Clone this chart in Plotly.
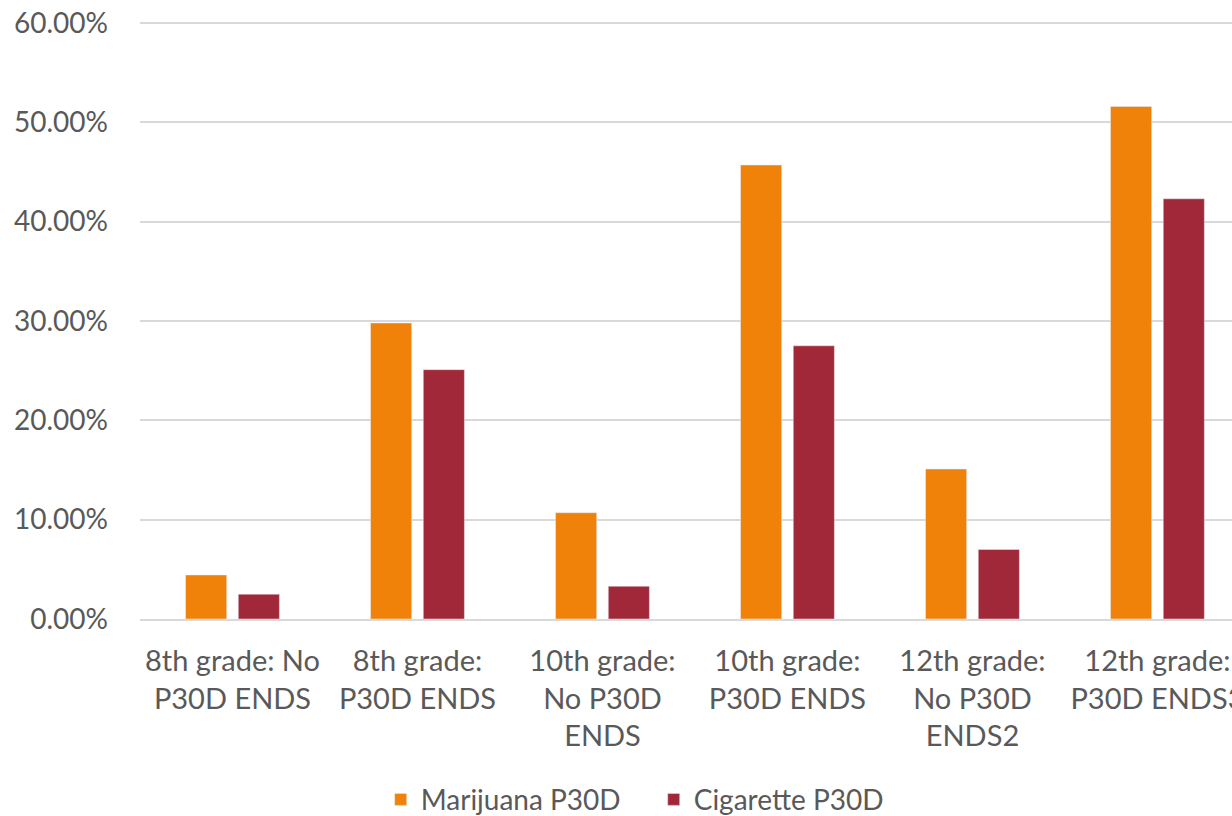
import plotly.graph_objects as go

categories = ["8th grade: No P30D ENDS", "8th grade: P30D ENDS", "10th grade: No P30D ENDS",
              "10th grade: P30D ENDS", "12th grade: No P30D ENDS2", "12th grade: P30D ENDS3"]
tick_labels = ["8th grade: No<br>P30D ENDS", "8th grade:<br>P30D ENDS", "10th grade:<br>No P30D<br>ENDS",
               "10th grade:<br>P30D ENDS", "12th grade:<br>No P30D<br>ENDS2", "12th grade:<br>P30D ENDS3"]
marijuana = [0.0443, 0.298, 0.107, 0.457, 0.151, 0.516]
cigarette = [0.025, 0.251, 0.033, 0.275, 0.070, 0.423]
y_ticks = [0, 0.1, 0.2, 0.3, 0.4, 0.5, 0.6]

FONT = "Lato"
TXT = "#595959"

fig = go.Figure()
fig.add_trace(go.Bar(name="Marijuana P30D", x=categories, y=marijuana, marker_color="#F0820A"))
fig.add_trace(go.Bar(name="Cigarette P30D", x=categories, y=cigarette, marker_color="#A12838"))

fig.update_layout(
    width=1232, height=816,
    margin=dict(l=140, r=0, t=18, b=197, autoexpand=False),
    plot_bgcolor="white", paper_bgcolor="white",
    barmode="group", bargap=0.43, bargroupgap=0.22,
    font=dict(family=FONT, size=29, color=TXT),
    showlegend=True,
    legend=dict(orientation="h", xref="container", yref="container", x=0.5306, xanchor="center",
                y=0.02, yanchor="middle", font=dict(size=28, color=TXT), entrywidth=228),
)
fig.update_xaxes(
    range=[-0.5, 5.403], tickmode="array", tickvals=categories, ticktext=tick_labels,
    showgrid=False, showline=True, linecolor="#D9D9D9", linewidth=2, ticks="", ticklabelstandoff=15,
    tickangle=0, automargin=False,
)
fig.update_yaxes(
    range=[0, 0.605], tickvals=y_ticks, tickformat=".2%", showgrid=True, gridcolor="#D9D9D9",
    gridwidth=1.5, zeroline=False, showline=False, ticks="", ticklabelstandoff=31, automargin=False,
    tickfont=dict(size=28),
)

fig.write_html("out.html", config={"displayModeBar": False},
               post_script="document.body.style.margin='0';")
